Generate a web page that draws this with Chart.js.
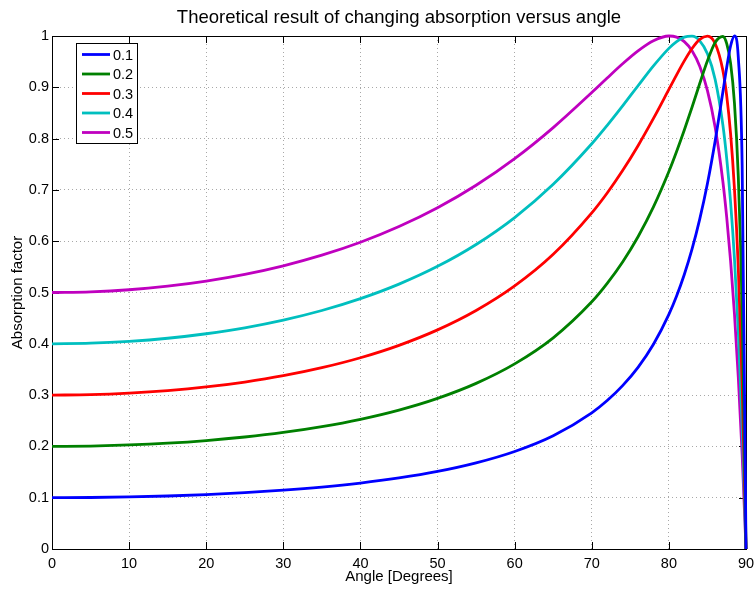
<!DOCTYPE html>
<html>
<head>
<meta charset="utf-8">
<title>Absorption versus angle</title>
<script src="https://cdn.jsdelivr.net/npm/chart.js@4.4.0/dist/chart.umd.min.js"></script>
<style>
  html, body { margin: 0; padding: 0; background: #ffffff; }
  #wrap { width: 754px; height: 589px; }
</style>
</head>
<body>
<div id="wrap"><canvas id="absorptionChart" width="754" height="589"></canvas></div>
<script>
// Angle samples in degrees, denser near grazing incidence where the peaks are
const angles = [0, 5, 10, 15, 20, 25, 30, 35, 40, 45, 50, 55, 60, 65, 70, 72, 74, 76, 78, 80,
                81, 82, 83, 84, 85, 86, 87, 87.5, 88, 88.5, 89, 89.5, 90];

const absorption01 = [0.1000, 0.1004, 0.1015, 0.1033, 0.1061, 0.1098, 0.1146, 0.1207, 0.1285, 0.1385,
                      0.1512, 0.1679, 0.1901, 0.2208, 0.2655, 0.2894, 0.3184, 0.3541, 0.3991, 0.4574,
                      0.4933, 0.5352, 0.5845, 0.6431, 0.7126, 0.7955, 0.8907, 0.9390, 0.9805, 1.0000,
                      0.9588, 0.7479, 0];
const absorption02 = [0.2000, 0.2007, 0.2028, 0.2063, 0.2114, 0.2183, 0.2272, 0.2386, 0.2529, 0.2709,
                      0.2937, 0.3229, 0.3609, 0.4117, 0.4819, 0.5178, 0.5595, 0.6087, 0.6668, 0.7357,
                      0.7748, 0.8167, 0.8611, 0.9073, 0.9516, 0.9875, 0.9990, 0.9851, 0.9472, 0.8699,
                      0.7264, 0.4683, 0];
const absorption03 = [0.3000, 0.3009, 0.3039, 0.3088, 0.3159, 0.3255, 0.3378, 0.3534, 0.3728, 0.3970,
                      0.4271, 0.4649, 0.5128, 0.5744, 0.6552, 0.6940, 0.7377, 0.7862, 0.8393, 0.8959,
                      0.9243, 0.9515, 0.9756, 0.9935, 0.9999, 0.9854, 0.9330, 0.8832, 0.8096, 0.7028,
                      0.5485, 0.3257, 0];
const absorption04 = [0.4000, 0.4012, 0.4048, 0.4108, 0.4196, 0.4312, 0.4462, 0.4649, 0.4880, 0.5163,
                      0.5510, 0.5936, 0.6461, 0.7109, 0.7899, 0.8258, 0.8638, 0.9030, 0.9417, 0.9759,
                      0.9892, 0.9979, 0.9996, 0.9906, 0.9654, 0.9153, 0.8267, 0.7611, 0.6764, 0.5667,
                      0.4248, 0.2406, 0];
const absorption05 = [0.5000, 0.5014, 0.5054, 0.5124, 0.5223, 0.5354, 0.5521, 0.5728, 0.5980, 0.6286,
                      0.6652, 0.7090, 0.7609, 0.8215, 0.8899, 0.9182, 0.9459, 0.9711, 0.9908, 1.0000,
                      0.9979, 0.9891, 0.9713, 0.9410, 0.8935, 0.8220, 0.7164, 0.6464, 0.5618, 0.4595,
                      0.3352, 0.1843, 0];

const seriesLabels = ['0.1', '0.2', '0.3', '0.4', '0.5'];
const seriesColors = ['#0000ff', '#008000', '#ff0000', '#00bfbf', '#bf00bf'];

const chartTitle = 'Theoretical result of changing absorption versus angle';
const xTitle = 'Angle [Degrees]';
const yTitle = 'Absorption factor';

const FONT = '"Liberation Sans", Arial, Helvetica, sans-serif';

function toPoints(values) {
    return values.map((v, i) => ({ x: angles[i], y: v }));
}

// Box around the axes with inward tick marks on all four sides
const framePlugin = {
    id: 'frame',
    beforeDatasetsDraw(chart) {
        const { ctx, chartArea: a, scales } = chart;
        const len = 7;
        ctx.save();
        ctx.strokeStyle = '#000000';
        ctx.lineWidth = 1;
        ctx.beginPath();
        scales.x.ticks.forEach(t => {
            const px = Math.round(scales.x.getPixelForValue(t.value)) + 0.5;
            ctx.moveTo(px, a.bottom); ctx.lineTo(px, a.bottom - len);
            ctx.moveTo(px, a.top); ctx.lineTo(px, a.top + len);
        });
        scales.y.ticks.forEach(t => {
            const py = Math.round(scales.y.getPixelForValue(t.value)) + 0.5;
            ctx.moveTo(a.left, py); ctx.lineTo(a.left + len, py);
            ctx.moveTo(a.right, py); ctx.lineTo(a.right - len, py);
        });
        ctx.stroke();
        ctx.strokeRect(Math.round(a.left) + 0.5, Math.round(a.top) + 0.5,
                       Math.round(a.right - a.left), Math.round(a.bottom - a.top));
        ctx.restore();
    }
};

// Title above the axes and the boxed legend in the upper left corner
const annotatePlugin = {
    id: 'annotate',
    afterDraw(chart) {
        const { ctx, chartArea: a } = chart;
        ctx.save();
        ctx.fillStyle = '#000000';
        ctx.font = '18.5px ' + FONT;
        ctx.textAlign = 'center';
        ctx.textBaseline = 'middle';
        ctx.fillText(chartTitle, (a.left + a.right) / 2, 18);

        const bx = 76.5, by = 43.5, bw = 61, bh = 100;
        ctx.fillStyle = '#ffffff';
        ctx.fillRect(bx, by, bw, bh);
        ctx.strokeStyle = '#000000';
        ctx.lineWidth = 1;
        ctx.strokeRect(bx, by, bw, bh);

        ctx.font = '14.5px ' + FONT;
        ctx.textAlign = 'left';
        chart.data.datasets.forEach((ds, i) => {
            const y = 54.5 + i * 19.5;
            ctx.strokeStyle = ds.borderColor;
            ctx.lineWidth = 2.8;
            ctx.beginPath();
            ctx.moveTo(82, y);
            ctx.lineTo(110, y);
            ctx.stroke();
            ctx.fillStyle = '#000000';
            ctx.fillText(ds.label, 113, y + 1);
        });
        ctx.restore();
    }
};

new Chart(document.getElementById('absorptionChart'), {
    type: 'line',
    data: {
        datasets: [absorption01, absorption02, absorption03, absorption04, absorption05].map((vals, i) => ({
            label: seriesLabels[i],
            data: toPoints(vals),
            borderColor: seriesColors[i],
            backgroundColor: seriesColors[i],
            borderWidth: 2.8,
            pointRadius: 0,
            cubicInterpolationMode: 'monotone',
            clip: 4
        }))
    },
    options: {
        responsive: false,
        animation: false,
        devicePixelRatio: 1,
        layout: { padding: { top: 36, right: 8, left: 0, bottom: 0 } },
        plugins: {
            legend: { display: false },
            title: { display: false },
            tooltip: { enabled: false }
        },
        scales: {
            x: {
                type: 'linear',
                min: 0,
                max: 90,
                afterFit: scale => {
                    scale.height = 40;
                    scale.paddingLeft = 0;
                    scale.paddingRight = 0;
                },
                ticks: {
                    stepSize: 10,
                    color: '#000000',
                    padding: 6,
                    maxRotation: 0,
                    font: { family: FONT, size: 14.5 }
                },
                grid: { color: '#a8a8a8', lineWidth: 1, drawTicks: false },
                border: { display: false, dash: [1, 3] },
                title: {
                    display: true,
                    text: xTitle,
                    color: '#000000',
                    font: { family: FONT, size: 15 },
                    padding: { top: 0, bottom: 3 }
                }
            },
            y: {
                type: 'linear',
                min: 0,
                max: 1,
                afterFit: scale => {
                    scale.width = 52;
                    scale.paddingTop = 0;
                    scale.paddingBottom = 0;
                },
                ticks: {
                    stepSize: 0.1,
                    color: '#000000',
                    padding: 3,
                    font: { family: FONT, size: 14.5 },
                    callback: value => String(Number(value.toFixed(1)))
                },
                grid: { color: '#a8a8a8', lineWidth: 1, drawTicks: false },
                border: { display: false, dash: [1, 3] },
                title: {
                    display: true,
                    text: yTitle,
                    color: '#000000',
                    font: { family: FONT, size: 15 },
                    padding: { top: 9, bottom: 0 }
                }
            }
        }
    },
    plugins: [framePlugin, annotatePlugin]
});
</script>
</body>
</html>
